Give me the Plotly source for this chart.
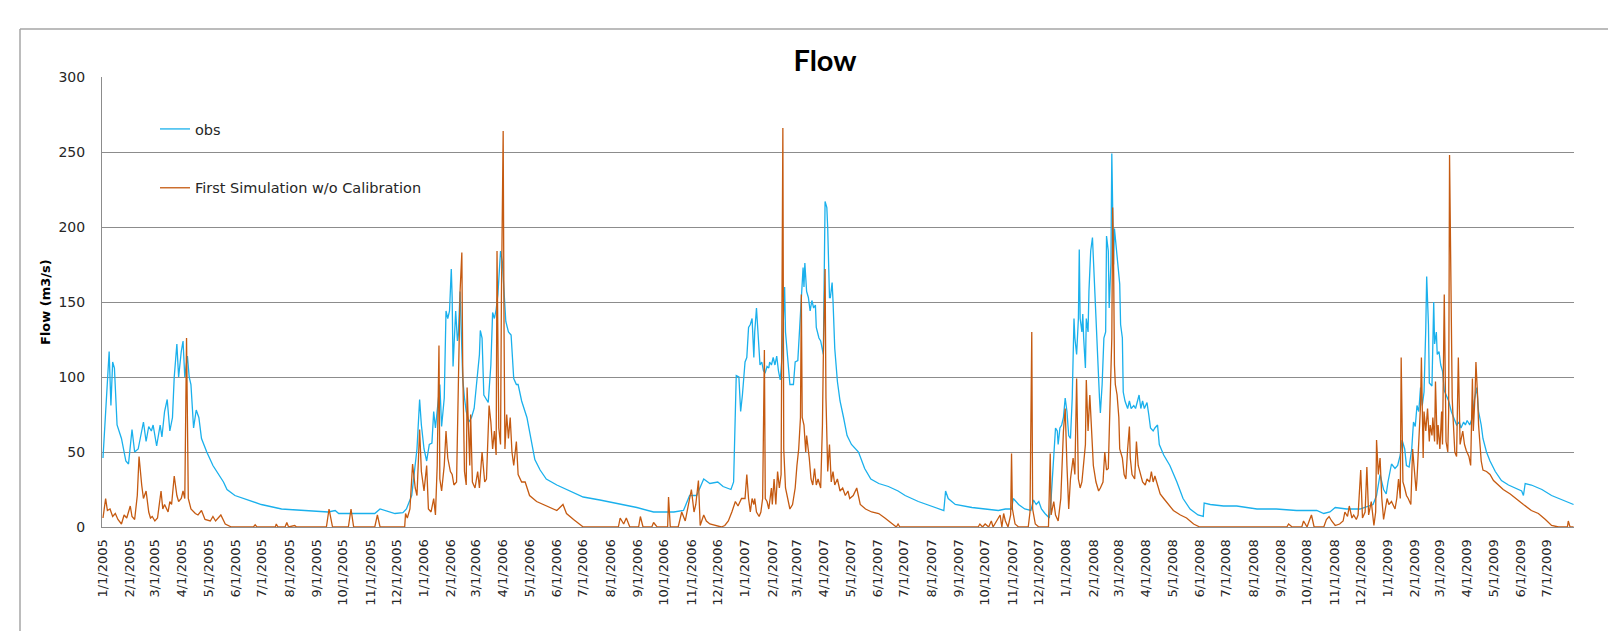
import pandas as pd
import plotly.graph_objects as go

start_date = "2005-01-01"

obs_day = [
    0, 4, 7, 9, 11, 13, 16, 21, 26, 29, 33, 36, 40, 43, 46, 49, 52, 55, 57, 61,
    65, 67, 70, 73, 76, 79, 81, 84, 86, 89, 91, 93, 96, 98, 100, 103, 106, 109, 112, 118,
    125, 137, 141, 150, 165, 180, 203, 226, 256, 264, 268, 294, 309, 315, 325, 332, 341, 345, 351, 357,
    360,
    362, 365, 368, 371, 374, 376, 378, 383, 385, 388, 390, 392, 394, 396, 397, 398, 400, 401, 403, 404,
    406, 408, 409, 411, 413, 416, 419, 422, 425, 428, 429, 431, 433, 435, 438, 441, 443, 445, 447, 449,
    451, 452, 454, 456, 458, 461, 464, 467, 470, 472, 476, 482, 487, 491, 497, 504, 516, 531, 546, 565,
    588, 607, 626, 649, 660, 667, 675, 683, 690, 699, 705, 714, 717, 720, 723, 725, 727,
    730, 732, 734, 736, 738, 740, 741, 743, 745, 747, 749, 751, 753, 755, 757, 758, 760, 762, 764, 766,
    768, 770, 772, 775, 776, 779, 781, 785, 787, 790, 792, 794, 796, 797, 798, 800, 802, 804, 806, 808,
    810, 811, 814, 816, 818, 819, 821, 823, 824, 826, 827, 829, 830, 832, 835, 838, 842, 846, 851, 859,
    866, 873, 882, 893, 904, 912, 927, 942, 956, 958, 961, 969, 988, 1003, 1018, 1026, 1033, 1035, 1041, 1048,
    1055, 1058, 1061, 1064, 1067, 1071, 1076, 1078, 1081, 1083, 1085, 1086, 1088, 1090, 1092, 1094, 1096, 1098, 1100, 1102,
    1104, 1105, 1107, 1109, 1110, 1111, 1113, 1114, 1115, 1117, 1118, 1120, 1121, 1123, 1125, 1127, 1129, 1131, 1133, 1134,
    1136, 1138, 1140, 1141, 1143, 1144, 1146, 1147, 1148, 1149, 1150, 1152, 1154, 1156, 1157, 1159, 1160, 1162, 1165, 1167,
    1169, 1172, 1174, 1176, 1178, 1180, 1182, 1184, 1187, 1189, 1191, 1194, 1196, 1199, 1201, 1206, 1213, 1221, 1228, 1236,
    1245, 1251, 1252, 1259, 1274, 1289, 1312, 1334, 1357, 1380, 1388, 1395, 1401, 1414, 1429, 1444, 1448, 1452, 1456, 1459,
    1461, 1465, 1469,
    1472, 1475, 1477, 1480, 1482, 1485, 1488, 1490, 1492, 1494, 1496, 1498, 1500, 1502, 1504, 1505, 1507, 1508, 1511, 1513,
    1514, 1516, 1517, 1519, 1521, 1523, 1525, 1528, 1530, 1533, 1536, 1539, 1542, 1544, 1547, 1549, 1551, 1554, 1557, 1559,
    1562, 1564, 1567, 1569, 1573, 1577, 1583, 1590, 1598, 1606, 1613, 1615, 1617, 1624, 1636, 1647, 1659, 1672,
]
obs_flow = [
    46, 88, 117, 81, 110, 106, 68, 59, 44, 42, 65, 50, 52, 61, 70, 57, 67, 64, 68, 54,
    68, 60, 77, 85, 64, 73, 100, 122, 100, 117, 124, 100, 114, 100, 95, 66, 78, 73, 59, 50,
    41, 30, 25, 21, 18, 15, 12, 11, 10, 11, 9, 9, 9, 12, 10, 9, 9.5, 12, 21, 52,
    85,
    68, 52, 44, 55, 56, 77, 66, 95, 67, 86, 144, 139, 144, 172, 153, 107, 130, 144, 124, 128,
    157, 115, 99, 86, 77, 70, 73, 79, 95, 115, 131, 126, 88, 86, 83, 108, 143, 139, 145, 155,
    175, 184, 177, 153, 137, 130, 128, 99, 95, 95, 84, 73, 57, 45, 38, 32, 28, 24, 20, 18,
    15, 13, 10, 10, 11, 21, 21, 32, 29, 30, 27, 25, 30, 101, 100, 77, 88,
    110, 113, 133, 135, 139, 113, 130, 146, 130, 108, 110, 104, 103, 107, 106, 110, 108, 113, 108, 114,
    104, 98, 113, 160, 130, 106, 95, 95, 110, 111, 133, 148, 173, 160, 176, 157, 153, 144, 151, 146,
    148, 133, 126, 124, 119, 115, 217, 213, 199, 153, 153, 163, 151, 119, 97, 84, 73, 61, 55, 50,
    39, 32, 29, 27, 24, 21, 17, 14, 11, 24, 19, 15, 13, 12, 11, 12, 12, 19, 15, 12,
    11, 18, 15, 17, 12, 9, 6, 19, 50, 66, 64, 55, 66, 68, 73, 86, 77, 61, 59, 86,
    139, 126, 115, 139, 185, 139, 130, 142, 126, 106, 139, 130, 157, 184, 193, 164, 133, 108, 86, 76,
    95, 126, 130, 194, 184, 146, 176, 249, 202, 175, 199, 188, 173, 162, 135, 126, 90, 84, 79, 84,
    79, 81, 79, 84, 88, 79, 84, 79, 83, 75, 66, 64, 66, 68, 55, 48, 41, 30, 19, 12,
    8, 7, 16, 15, 14, 14, 12, 12, 11, 11, 9, 10, 13, 12, 12, 15, 21, 35, 25, 22,
    30, 42, 39,
    41, 48, 58, 52, 41, 40, 52, 70, 67, 81, 77, 93, 81, 90, 133, 167, 135, 96, 94, 150,
    122, 130, 115, 117, 108, 104, 91, 86, 84, 77, 73, 68, 70, 66, 70, 68, 71, 68, 73, 84,
    93, 77, 68, 59, 50, 44, 37, 31, 28, 26, 24, 21, 29, 28, 25, 21, 18, 15,
]

# first simulation (w/o calibration): day offset from 1/1/2005 and flow (m3/s)
sim_day = [
    0, 3, 5, 8, 11, 14, 17, 21, 24, 27, 29, 31, 33, 36, 39, 41, 44, 46, 49, 52,
    54, 56, 59, 62, 66, 68, 70, 74, 76, 78, 81, 84, 86, 89, 91, 93, 95, 97, 100, 105,
    108, 112, 116, 122, 125, 128, 134, 139, 146, 171, 173, 175, 196, 197, 199, 207, 209, 211, 218, 220,
    254, 257, 261, 279, 282, 285, 309, 312, 315, 343, 344, 346, 349, 352, 355, 357, 360,
    362, 365, 368, 370, 373, 376, 378, 380, 382, 383, 385, 388, 390, 392, 395, 397, 399, 402, 404, 406,
    408, 409, 411, 413, 414, 417, 418, 420, 423, 426, 428, 431, 434, 436, 439, 441, 443, 445, 447, 448,
    450, 452, 453, 455, 456, 457, 459, 461, 463, 465, 467, 470, 472, 476, 480, 485, 493, 504, 516, 523,
    527, 535, 546, 586, 588, 592, 595, 599, 609, 611, 614, 624, 626, 630, 642, 643, 645, 654, 658, 662,
    666, 669, 672, 674, 677, 679, 683, 686, 690, 698, 703, 707, 711, 715, 719, 722, 726,
    730, 732, 734, 736, 738, 740, 741, 743, 746, 748, 750, 752, 753, 755, 757, 760, 761, 763, 765, 767,
    769, 771, 773, 774, 776, 779, 781, 784, 787, 789, 791, 793, 794, 795, 797, 799, 800, 803, 805, 807,
    809, 811, 813, 816, 818, 819, 821, 822, 824, 826, 828, 830, 832, 835, 838, 841, 844, 847, 849, 853,
    857, 861, 867, 874, 882, 889, 897, 902, 904, 906, 995, 997, 1000, 1003, 1007, 1010, 1012, 1020, 1022, 1024,
    1026, 1029, 1032, 1033, 1034, 1037, 1041, 1052, 1054, 1056, 1057, 1060, 1064, 1075, 1077, 1078, 1081, 1083, 1086, 1089,
    1092, 1094, 1096, 1098, 1100,
    1103, 1105, 1107, 1109, 1111, 1113, 1115, 1117, 1118, 1120, 1122, 1124, 1126, 1129, 1132, 1134, 1137, 1139, 1141, 1143,
    1145, 1147, 1148, 1149, 1150, 1151, 1153, 1155, 1156, 1159, 1161, 1163, 1165, 1167, 1168, 1170, 1173, 1175, 1177, 1179,
    1182, 1185, 1187, 1190, 1192, 1194, 1196, 1199, 1202, 1206, 1211, 1217, 1225, 1232, 1240, 1247, 1346, 1348, 1352, 1363,
    1365, 1369, 1372, 1374, 1377, 1388, 1391, 1394, 1397, 1401, 1406, 1410, 1412, 1415, 1417, 1420, 1422, 1425, 1427, 1430,
    1432, 1435, 1437, 1439, 1442, 1445, 1447, 1448, 1450, 1452, 1454, 1456, 1458, 1460, 1462, 1465, 1469,
    1471, 1473, 1475, 1476, 1478, 1480, 1482, 1484, 1487, 1489, 1491, 1493, 1494, 1496, 1498, 1499, 1501, 1502, 1504, 1506,
    1508, 1509, 1511, 1512, 1514, 1515, 1517, 1518, 1520, 1522, 1523, 1525, 1527, 1529, 1530, 1531, 1532, 1534, 1535, 1537,
    1539, 1541, 1543, 1546, 1548, 1550, 1553, 1555, 1557, 1558, 1560, 1561, 1563, 1564, 1567, 1569, 1573, 1577, 1581, 1587,
    1592, 1600, 1607, 1615, 1624, 1632, 1640, 1647, 1655, 1665, 1666, 1668, 1672,
]
sim_flow = [
    6, 19, 11, 12, 7, 9, 5, 2, 8, 6, 10, 14, 7, 5, 21, 47, 28, 19, 24, 10,
    6, 7, 4, 6, 24, 12, 15, 10, 17, 15, 34, 21, 17, 19, 24, 19, 126, 19, 12, 9,
    8, 11, 5, 4, 7, 4, 8, 2, 0, 0, 1.5, 0, 0, 2, 0, 0, 3, 0, 1, 0,
    0, 12, 0, 0, 12, 0, 0, 8, 0, 0, 9, 6, 12, 42, 26, 21, 65,
    37, 24, 41, 12, 10, 19, 8, 41, 121, 32, 24, 41, 64, 46, 37, 35, 28, 30, 86, 157,
    183, 108, 37, 28, 93, 41, 75, 30, 26, 37, 26, 50, 30, 32, 81, 70, 52, 64, 48, 184,
    66, 55, 153, 264, 130, 52, 75, 59, 73, 50, 41, 57, 35, 30, 30, 21, 17, 14, 11, 15,
    9, 5, 0, 0, 6, 2, 6, 0, 0, 7, 0, 0, 3, 0, 0, 20, 0, 0, 10, 4,
    15, 25, 10, 15, 31, 1, 8, 4, 2, 1, 0, 1, 4, 10, 17, 14, 19,
    19, 35, 19, 10, 19, 15, 19, 10, 7, 10, 19, 118, 19, 17, 12, 26, 15, 32, 15, 37,
    26, 35, 266, 52, 26, 17, 12, 15, 26, 41, 52, 73, 155, 73, 68, 50, 61, 46, 32, 28,
    39, 28, 32, 26, 68, 113, 172, 86, 37, 55, 30, 37, 28, 32, 24, 26, 21, 24, 19, 21,
    26, 15, 12, 10, 9, 6, 2, 0, 2, 0, 0, 2, 0, 2, 0, 4, 0, 8, 0, 9,
    4, 0, 8, 49, 12, 2, 0, 0, 10, 130, 12, 2, 0, 0, 49, 8, 17, 8, 4, 19,
    64, 79, 41, 12, 32,
    46, 35, 99, 32, 26, 30, 41, 55, 98, 64, 88, 64, 41, 30, 24, 26, 30, 50, 38, 39,
    86, 126, 213, 177, 108, 95, 88, 73, 52, 46, 35, 32, 52, 67, 46, 35, 32, 57, 41, 36,
    30, 28, 32, 30, 37, 30, 34, 28, 22, 19, 15, 11, 8, 6, 2, 0, 0, 2, 0, 0,
    4, 0, 5, 8, 0, 0, 5, 7, 4, 1, 2, 4, 10, 7, 14, 6, 8, 5, 8, 38,
    6, 10, 40, 8, 17, 1, 10, 58, 35, 46, 19, 5, 12, 19, 15, 17, 12,
    19, 32, 19, 113, 30, 26, 21, 19, 15, 52, 37, 24, 32, 57, 81, 113, 46, 77, 64, 79,
    57, 68, 61, 73, 57, 97, 55, 68, 52, 77, 55, 155, 57, 50, 77, 248, 184, 86, 73, 50,
    47, 113, 55, 64, 55, 51, 47, 41, 99, 64, 88, 110, 86, 68, 44, 38, 37, 35, 31, 28,
    25, 22, 19, 15, 11, 9, 5, 1, 0, 0, 4, 0, 0,
]

series_names = ["obs", "First Simulation w/o Calibration"]
y_ticks = [0, 50, 100, 150, 200, 250, 300]

assert len(obs_day) == len(obs_flow)
assert len(sim_day) == len(sim_flow)

t0 = pd.Timestamp(start_date)
obs_dates = t0 + pd.to_timedelta(obs_day, unit="D")
sim_dates = t0 + pd.to_timedelta(sim_day, unit="D")

TITLE_FONT = "Lato, 'Open Sans', sans-serif"
FONT = "'DejaVu Sans', Verdana, sans-serif"
BLUE = "#1AB0EC"
ORANGE = "#C55A11"
GRID = "#8C8C8C"

fig = go.Figure()
fig.add_trace(go.Scatter(x=obs_dates, y=obs_flow, mode="lines", name=series_names[0],
                         legendgroup="g1", line=dict(color=BLUE, width=1.3)))
fig.add_trace(go.Scatter(x=sim_dates, y=sim_flow, mode="lines", name=series_names[1],
                         legendgroup="g2", line=dict(color=ORANGE, width=1.3)))

# the page body adds an 8px offset, so the figure is laid out 8px up/left
OFF = 8
W, H = 1616 - OFF, 631 - OFF
L, R, T, B = 102 - OFF, 42, 77 - OFF, 104
pw, ph = W - L - R, H - T - B

def px2paper_x(px):
    return (px - OFF - L) / pw

def px2paper_y(py):
    return (H - B - (py - OFF)) / ph

fig.update_layout(
    width=W, height=H,
    margin=dict(l=L, r=R, t=T, b=B, pad=0),
    paper_bgcolor="white", plot_bgcolor="white",
    font=dict(family=FONT, color="#262626"),
    title=dict(text="<b>Flow</b>", x=px2paper_x(825), xref="paper", xanchor="center",
               y=1 - (61 - OFF) / H, yref="container", yanchor="middle",
               font=dict(size=29, family=TITLE_FONT, color="#000000")),
    showlegend=True,
    legend=dict(x=px2paper_x(155), y=px2paper_y(113), xanchor="left", yanchor="top",
                bgcolor="rgba(0,0,0,0)", font=dict(size=14.5, family=FONT, color="#262626"),
                tracegroupgap=37, itemwidth=30),
    xaxis=dict(
        type="date",
        range=["2004-12-30 21:00", "2009-07-31 12:00"],
        tick0="2005-01-01", dtick="M1", tickformat="%-m/%-d/%Y",
        tickangle=-90, tickfont=dict(size=13, family=FONT, color="#262626"),
        showgrid=False, showline=True, linecolor=GRID, linewidth=1,
        ticks="", ticklabelstandoff=6, zeroline=False,
    ),
    yaxis=dict(
        range=[0, 300], tickvals=y_ticks,
        tickfont=dict(size=14, family=FONT, color="#262626"),
        showgrid=True, gridcolor=GRID, gridwidth=1,
        showline=True, linecolor=GRID, linewidth=1,
        ticks="", ticklabelstandoff=13, zeroline=False,
    ),
    annotations=[dict(text="<b>Flow (m3/s)</b>", textangle=-90, x=px2paper_x(45), y=0.5,
                      xref="paper", yref="paper", xanchor="center", yanchor="middle",
                      showarrow=False, font=dict(size=13, family=FONT, color="#000000"))],
    shapes=[
        dict(type="line", xref="paper", yref="paper", x0=px2paper_x(20), x1=px2paper_x(1640),
             y0=px2paper_y(29), y1=px2paper_y(29), line=dict(color="#A6A6A6", width=1.5)),
        dict(type="line", xref="paper", yref="paper", x0=px2paper_x(20), x1=px2paper_x(20),
             y0=px2paper_y(29), y1=px2paper_y(660), line=dict(color="#A6A6A6", width=1.5)),
    ],
)

fig.write_html("out.html")
